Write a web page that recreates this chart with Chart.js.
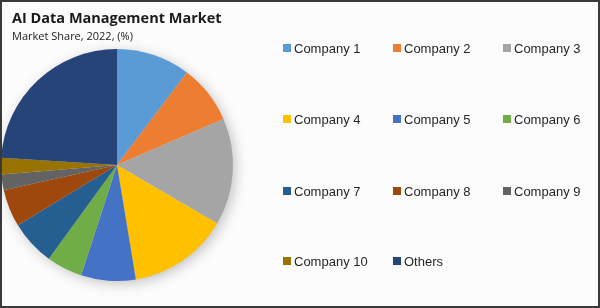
<!DOCTYPE html>
<html>
<head>
<meta charset="utf-8">
<script src="https://cdn.jsdelivr.net/npm/chart.js@4.4.1/dist/chart.umd.min.js"></script>
<style>
    html, body { margin: 0; padding: 0; background: #ffffff; }
    #wrap { width: 600px; height: 308px; position: relative; }
</style>
</head>
<body>
<div id="wrap"><canvas id="shareChart" width="600" height="308"></canvas></div>
<script>
const chartTitle = 'AI Data Management Market';
const chartSubtitle = 'Market Share, 2022, (%)';

const companies = ['Company 1', 'Company 2', 'Company 3', 'Company 4', 'Company 5', 'Company 6',
    'Company 7', 'Company 8', 'Company 9', 'Company 10', 'Others'];
const shares = [10.3, 8.2, 14.9, 14.0, 7.6, 5.0, 6.3, 5.2, 2.2, 2.3, 24.0];
const sliceColors = ['#5B9BD5', '#ED7D31', '#A5A5A5', '#FFC000', '#4472C4', '#70AD47',
    '#255E91', '#9E480E', '#636363', '#997300', '#264478'];

// background, frame, title and the 3-column legend
const decorPlugin = {
    id: 'decor',
    beforeDraw(chart) {
        const ctx = chart.ctx;
        ctx.save();
        ctx.fillStyle = '#fcfcfc';
        ctx.fillRect(0, 0, chart.width, chart.height);
        ctx.restore();
    },
    beforeDatasetsDraw(chart) {
        // soft shadow behind the pie
        const arc = chart.getDatasetMeta(0).data[0];
        if (!arc) return;
        const ctx = chart.ctx;
        ctx.save();
        ctx.shadowColor = 'rgba(0,0,0,0.25)';
        ctx.shadowBlur = 14;
        ctx.shadowOffsetX = 3;
        ctx.shadowOffsetY = 3;
        ctx.fillStyle = '#dddddd';
        ctx.beginPath();
        ctx.arc(arc.x, arc.y, arc.outerRadius - 1, 0, Math.PI * 2);
        ctx.fill();
        ctx.restore();
    },
    afterDraw(chart) {
        const ctx = chart.ctx;
        ctx.save();
        ctx.fillStyle = '#1a1a1a';
        ctx.textBaseline = 'alphabetic';
        ctx.font = 'bold 14.5px "Open Sans", sans-serif';
        ctx.fillText(chartTitle, 12, 23);
        ctx.font = '11px "Open Sans", sans-serif';
        ctx.fillText(chartSubtitle, 12, 40);

        const colX = [283, 393, 503];
        const rowY = [48, 119, 191, 261];
        ctx.font = '13px "Liberation Sans", sans-serif';
        ctx.textBaseline = 'middle';
        companies.forEach((name, i) => {
            const x = colX[i % 3];
            const y = rowY[Math.floor(i / 3)];
            ctx.fillStyle = sliceColors[i];
            ctx.fillRect(x, y - 4, 8, 8);
            ctx.fillStyle = '#262626';
            ctx.fillText(name, x + 11, y + 1);
        });

        ctx.strokeStyle = '#3a3a3a';
        ctx.lineWidth = 2;
        ctx.strokeRect(1, 1, chart.width - 2, chart.height - 2);
        ctx.restore();
    }
};

const ctx = document.getElementById('shareChart').getContext('2d');
const shareChart = new Chart(ctx, {
    type: 'pie',
    data: {
        labels: companies,
        datasets: [{
            data: shares,
            backgroundColor: sliceColors,
            borderWidth: 0
        }]
    },
    options: {
        responsive: false,
        animation: false,
        layout: {
            padding: { left: 1, right: 367, top: 49, bottom: 27 }
        },
        plugins: {
            legend: { display: false },
            tooltip: { enabled: false }
        }
    },
    plugins: [decorPlugin]
});
</script>
</body>
</html>
